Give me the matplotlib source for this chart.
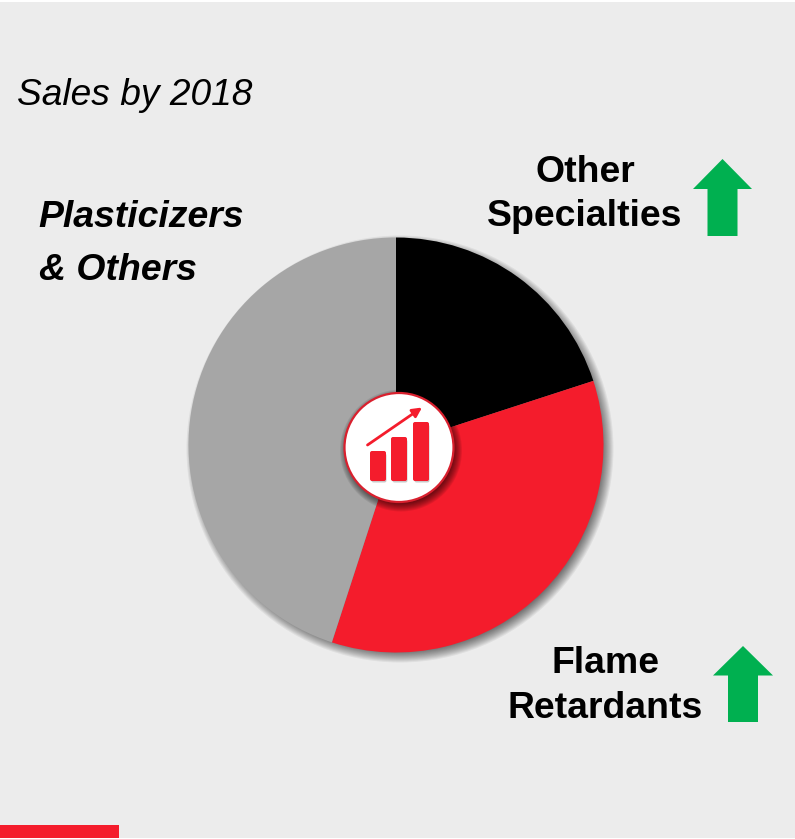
import matplotlib
matplotlib.use("Agg")
import matplotlib.pyplot as plt
from matplotlib.patches import Circle, Rectangle, Polygon, FancyBboxPatch

W, H = 795, 839
categories = ["Other Specialties", "Flame Retardants", "Plasticizers & Others"]
shares = [20, 35, 45]
slice_colors = ["#000000", "#F41C2C", "#A6A6A6"]
icon_bars = [(370, 386, 451), (391, 407, 437), (413, 429, 422)]

BG = "#ECECEC"
RED = "#F41C2C"
GREEN = "#00B050"
plt.rcParams["font.family"] = ["Liberation Sans", "DejaVu Sans"]

def Y(py):
    return H - py

fig = plt.figure(figsize=(W / 100, H / 100), dpi=100, facecolor="white")
ax = fig.add_axes([0, 0, 1, 1])
ax.set_xlim(0, W)
ax.set_ylim(0, H)
ax.axis("off")
ax.add_patch(Rectangle((0, Y(838)), W, 836, fc=BG, ec="none", zorder=0))
ax.add_patch(Rectangle((0, Y(838)), 119, 13, fc=RED, ec="none", zorder=1))

# soft pie shadow
cx, cy, R = 396, 445, 207.5
for i in range(12):
    ax.add_patch(Circle((cx + 4, Y(cy + 4)), R + 6 - i, fc="#000000", ec="none", alpha=0.055, zorder=1))

ax.pie(shares, colors=slice_colors, center=(cx, Y(cy)), radius=R, startangle=90,
       counterclock=False, frame=True, wedgeprops=dict(linewidth=0, zorder=2))
ax.set_xlim(0, W)
ax.set_ylim(0, H)
ax.set_aspect("auto")
ax.axis("off")

# centre icon
ic = (399, 447.5)
for i in range(9):
    ax.add_patch(Circle((ic[0] + 2, Y(ic[1] + 3)), 61 - i, fc="#000000", ec="none", alpha=0.08, zorder=3))
ax.add_patch(Circle((ic[0], Y(ic[1])), 54.5, fc="white", ec="#D9202E", lw=1.6, zorder=4))
for x0, x1, top in icon_bars:
    bottom = 481
    ax.add_patch(FancyBboxPatch((x0 + 1.5, Y(bottom + 1.5)), x1 - x0 - 1, bottom - top - 1,
                                boxstyle="round,pad=0,rounding_size=2", fc="#C9C9C9", ec="none", zorder=4.5))
    ax.add_patch(FancyBboxPatch((x0, Y(bottom)), x1 - x0, bottom - top,
                                boxstyle="round,pad=0,rounding_size=2", fc=RED, ec="none", zorder=5))
ax.annotate("", xy=(422, Y(407.5)), xytext=(367.5, Y(445)), zorder=5,
            arrowprops=dict(arrowstyle="-|>,head_length=0.55,head_width=0.28", color=RED, lw=2,
                            shrinkA=0, shrinkB=0))

# green arrows
def up_arrow(cxa, tip, base, bottom, hw, sw):
    pts = [(cxa, tip), (cxa + hw, base), (cxa + sw, base), (cxa + sw, bottom),
           (cxa - sw, bottom), (cxa - sw, base), (cxa - hw, base)]
    ax.add_patch(Polygon([(x, Y(y)) for x, y in pts], closed=True, fc=GREEN, ec="none", zorder=3))

up_arrow(722.5, 159, 189, 236, 29.5, 15)
up_arrow(743, 646, 675.5, 722, 30, 15)

# text
ax.text(17, Y(91.5), "Sales by 2018", fontsize=26.7, style="italic", color="#000000", ha="left", va="center_baseline")
ax.text(38, Y(213.5), "Plasticizers", fontsize=26.9, style="italic", weight="bold", color="#000000", ha="left", va="center_baseline")
ax.text(39, Y(266.5), "& Others", fontsize=26.9, style="italic", weight="bold", color="#000000", ha="left", va="center_baseline")
ax.text(585, Y(168.5), "Other", fontsize=26.9, weight="bold", color="#000000", ha="center", va="center_baseline")
ax.text(585, Y(212.5), "Specialties", fontsize=26.9, weight="bold", color="#000000", ha="center", va="center_baseline")
ax.text(605, Y(659.5), "Flame", fontsize=26.9, weight="bold", color="#000000", ha="center", va="center_baseline")
ax.text(605, Y(704.5), "Retardants", fontsize=26.9, weight="bold", color="#000000", ha="center", va="center_baseline")

fig.savefig("out.png", dpi=100, facecolor="white")
